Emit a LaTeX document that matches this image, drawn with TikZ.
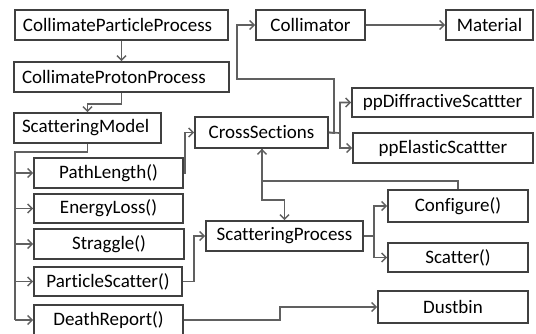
\documentclass[tikz,border=0pt]{standalone}
\usepackage{fontspec}
\setmainfont{Carlito}[Ligatures={NoCommon}]
\usetikzlibrary{arrows.meta}
\definecolor{boxline}{HTML}{404040}
\definecolor{connline}{HTML}{606060}
\begin{document}
\begin{tikzpicture}[x=1pt,y=-1pt,
  box/.style={draw=boxline,line width=1.7pt,minimum height=30pt,inner sep=0pt,
    font=\fontsize{19}{21}\selectfont,text=black},
  lbox/.style={box,align=left,inner xsep=8pt},
  conn/.style={draw=connline,line width=1.7pt,-{Straight Barb[length=4.5pt,width=9pt,line width=1.5pt]}},
  wire/.style={draw=connline,line width=1.7pt}]
\useasboundingbox[fill=white] (0,0) rectangle (536,334);
% boxes
\node[lbox,minimum width=213pt,text width=197pt] (cpp) at (121.5,25) {CollimateParticleProcess};
\node[lbox,minimum width=215pt,text width=199pt] (cprp) at (121.5,77) {CollimateProtonProcess};
\node[lbox,minimum width=147pt,text width=131pt] (sm) at (87.5,128) {ScatteringModel};
\node[box,minimum width=149pt] (pl) at (108.5,173) {PathLength()};
\node[box,minimum width=149pt,minimum height=29pt] (el) at (108.5,208.5) {EnergyLoss()};
\node[box,minimum width=150pt] (st) at (109,244) {Straggle()};
\node[box,minimum width=148pt,minimum height=29pt] (ps) at (108,281.5) {ParticleScatter()};
\node[box,minimum width=149pt] (dr) at (108.5,320) {DeathReport()};
\node[box,minimum width=133pt,minimum height=31pt] (cs) at (261.5,132.5) {CrossSections};
\node[box,minimum width=109pt] (col) at (310.5,25) {Collimator};
\node[box,minimum width=87pt] (mat) at (489.5,25) {Material};
\node[box,minimum width=181pt,minimum height=29pt] (pd) at (442.5,102.5) {ppDiffractiveScattter};
\node[box,minimum width=180pt] (pe) at (443,148) {ppElasticScattter};
\node[box,minimum width=157pt] (sp) at (284.5,236) {ScatteringProcess};
\node[box,minimum width=140pt,minimum height=32pt] (cf) at (458,206) {Configure()};
\node[box,minimum width=140pt,minimum height=29pt] (sc) at (458,257.5) {Scatter()};
\node[box,minimum width=150pt,minimum height=32pt] (db) at (453,307) {Dustbin};
% helper coordinates
\coordinate (bus) at (15,152);
\coordinate (plj) at (185,173);
\coordinate (csj1) at (334,133);
\coordinate (csj2) at (340,133);
\coordinate (colj) at (237,79);
\coordinate (psj) at (194,281.5);
\coordinate (spj) at (374,236);
\coordinate (csd) at (262,200);
\coordinate (cfj) at (262,181);
\coordinate (drj) at (280,320);
% connectors
\draw[conn] (cpp.south) -- (cprp.north);
\draw[conn] (cprp.south) -- ++(0,11) -| (sm.north);
\draw[wire] (sm.south) |- (bus) -- (bus |- dr.west);
\foreach \n in {pl,el,st,ps,dr} \draw[conn] (bus |- \n.west) -- (\n.west);
\draw[conn] (pl.east) -- (plj) |- (cs.west);
\draw[conn] (cs.east) -- (csj1) -- (csj1 |- colj) -- (colj) |- (col.west);
\draw[conn] (cs.east) -- (csj2) |- (pd.west);
\draw[conn] (csj2) |- (pe.west);
\draw[conn] (col.east) -- (mat.west);
\draw[conn] (ps.east) -- (psj) |- (sp.west);
\draw[conn] (cs.south -| csd) -- (csd) -| (sp.north);
\draw[conn] (cf.north) |- (cfj) -- (cfj |- cs.south);
\draw[conn] (sp.east) -- (spj) |- (cf.west);
\draw[conn] (spj) |- (sc.west);
\draw[conn] (dr.east) -- (drj) |- (db.west);
\end{tikzpicture}
\end{document}
